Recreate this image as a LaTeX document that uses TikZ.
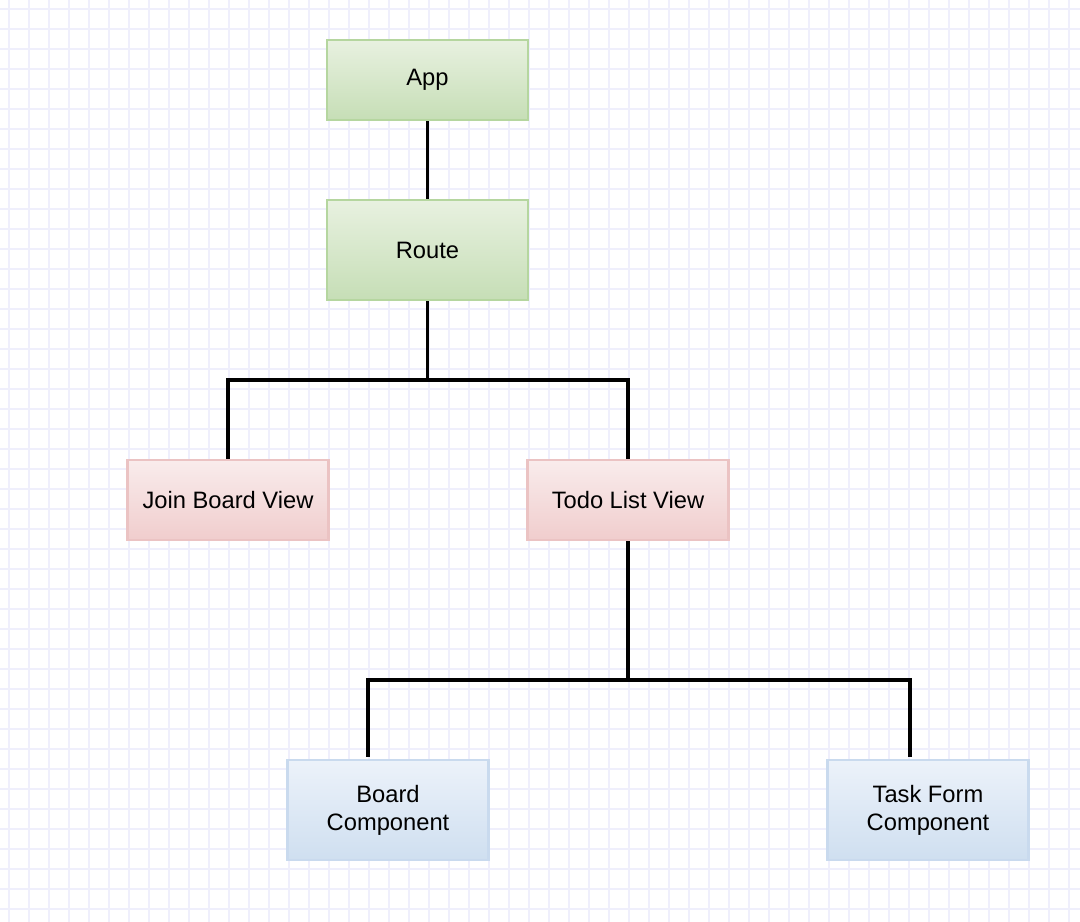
\documentclass[tikz,border=0pt]{standalone}
\usepackage{fontspec}
\setmainfont{Liberation Sans}
\usepackage{tikz}

\definecolor{gridcol}{HTML}{EFEFFC}
\definecolor{greentop}{HTML}{E8F1E0}
\definecolor{greenbot}{HTML}{C6DEB6}
\definecolor{greenedge}{HTML}{B5D69F}
\definecolor{redtop}{HTML}{F9ECEC}
\definecolor{redbot}{HTML}{F0CDCD}
\definecolor{rededge}{HTML}{EBC3C3}
\definecolor{bluetop}{HTML}{ECF2FA}
\definecolor{bluebot}{HTML}{CFDFF0}
\definecolor{blueedge}{HTML}{C9DAEE}

\begin{document}
\begin{tikzpicture}[x=0.02cm, y=-0.02cm, every node/.style={font=\fontsize{13.5}{16}\selectfont, align=center},
	box/.style={minimum width=4.02cm, minimum height=1.6cm, line width=1.2pt, inner sep=0pt},
	greenbox/.style={box, draw=greenedge, top color=greentop, bottom color=greenbot},
	redbox/.style={box, draw=rededge, top color=redtop, bottom color=redbot},
	bluebox/.style={box, minimum height=2cm, draw=blueedge, top color=bluetop, bottom color=bluebot},
	conn/.style={line width=2pt, black}]
	\useasboundingbox (0,0) rectangle (1080,922);
	\fill[white] (0,0) rectangle (1080,922);
	\foreach \g in {9,29,...,1079} \draw[gridcol, line width=1pt] (\g,0) -- (\g,922);
	\foreach \g in {9,29,...,921} \draw[gridcol, line width=1pt] (0,\g) -- (1080,\g);
	% boxes
	\node[greenbox] (App) at (427.5,80) {App};
	\node[greenbox, minimum height=2cm] (Route) at (427.5,250) {Route};
	\node[redbox] (JoinView) at (228,500) {Join Board View};
	\node[redbox] (TodoView) at (628,500) {Todo List View};
	\node[bluebox] (BoardComp) at (388,810) {Board\\Component};
	\node[bluebox] (TaskComp) at (928,810) {Task Form\\Component};
	% connectors
	\coordinate (routeJ) at (427.5,380);
	\coordinate (todoJ) at (628,680);
	\coordinate (boardTop) at (368,757);
	\coordinate (taskTop) at (910,757);
	\draw[conn] (App.south) -- (Route.north);
	\draw[conn] (Route.south) -- (routeJ);
	\draw[conn] (routeJ) -| (JoinView.north);
	\draw[conn] (routeJ) -| (TodoView.north);
	\draw[conn] (TodoView.south) -- (todoJ);
	\draw[conn] (todoJ) -| (boardTop);
	\draw[conn] (todoJ) -| (taskTop);
\end{tikzpicture}
\end{document}
